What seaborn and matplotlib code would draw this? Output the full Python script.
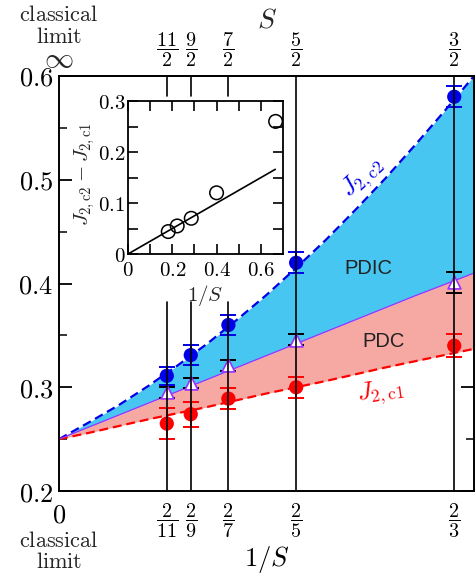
import matplotlib
matplotlib.use('Agg')
import matplotlib.pyplot as plt
import seaborn as sns
import numpy as np
import pandas as pd

# ---------------- data ----------------
inv_S = [2/11, 2/9, 2/7, 2/5, 2/3]
bottom_labels = [r'$0$', r'$\dfrac{2}{11}$', r'$\dfrac{2}{9}$', r'$\dfrac{2}{7}$', r'$\dfrac{2}{5}$', r'$\dfrac{2}{3}$']
top_labels = [r'$\dfrac{11}{2}$', r'$\dfrac{9}{2}$', r'$\dfrac{7}{2}$', r'$\dfrac{5}{2}$', r'$\dfrac{3}{2}$']

Jc2 = [0.311, 0.331, 0.360, 0.420, 0.580]
Jc2_err = [0.009, 0.010, 0.010, 0.010, 0.010]
Jc1 = [0.265, 0.274, 0.289, 0.300, 0.340]
Jc1_err = [0.015, 0.012, 0.010, 0.010, 0.011]
Jmid = [0.295, 0.304, 0.321, 0.346, 0.401]
Jmid_err = [0.005, 0.005, 0.005, 0.005, 0.010]

curve_x = [0.0, 0.05, 0.1, 0.15, 0.2, 0.25, 0.3, 0.35, 0.4, 0.45, 0.5, 0.55, 0.6, 0.65, 0.7]
curve_c2 = [0.25, 0.266, 0.2825, 0.301, 0.321, 0.342, 0.365, 0.389, 0.415, 0.442, 0.471, 0.501, 0.533, 0.566, 0.600]
curve_mid = [0.25, 0.2615, 0.273, 0.2845, 0.296, 0.3075, 0.319, 0.3305, 0.342, 0.3535, 0.365, 0.3765, 0.388, 0.399, 0.410]
curve_c1 = [0.25, 0.256, 0.2625, 0.269, 0.275, 0.281, 0.2875, 0.294, 0.300, 0.306, 0.3125, 0.319, 0.325, 0.331, 0.337]

inset_diff = [0.044, 0.055, 0.070, 0.120, 0.260]
inset_fit_x = [0.0, 0.665]
inset_fit_y = [0.0, 0.166]

# ---------------- style ----------------
sns.set_theme(style='ticks')
plt.rcParams['mathtext.fontset'] = 'cm'
plt.rcParams['font.family'] = ['DejaVu Sans']

C_BLUE = '#0000E8'
C_RED = '#FF0000'
C_PURPLE = '#9B30FF'
C_FILL_B = '#47C6F2'
C_FILL_R = '#F6A8A2'

fig = plt.figure(figsize=(4.77, 5.76), dpi=100)
ax = fig.add_axes([59/477, 1-491/576, 415/477, 415/576])
ax.set_xlim(0, 0.7)
ax.set_ylim(0.2, 0.6)

# fills
ax.fill_between(curve_x, curve_mid, curve_c2, color=C_FILL_B, lw=0, zorder=1)
ax.fill_between(curve_x, curve_c1, curve_mid, color=C_FILL_R, lw=0, zorder=1)

# curves
sns.lineplot(x=curve_x, y=curve_c2, ax=ax, color=C_BLUE, lw=1.6, linestyle=(0, (4, 2.2)), zorder=2)
sns.lineplot(x=curve_x, y=curve_c1, ax=ax, color=C_RED, lw=1.6, linestyle=(0, (4, 2.2)), zorder=2)
sns.lineplot(x=curve_x, y=curve_mid, ax=ax, color=C_PURPLE, lw=0.9, zorder=2)

# error bars
ax.errorbar(inv_S, Jc2, yerr=Jc2_err, fmt='none', ecolor=C_BLUE, capsize=6, elinewidth=1.1, capthick=1.4, zorder=3)
ax.errorbar(inv_S, Jc1, yerr=Jc1_err, fmt='none', ecolor=C_RED, capsize=6, elinewidth=1.1, capthick=1.4, zorder=3)
ax.errorbar(inv_S, Jmid, yerr=Jmid_err, fmt='none', ecolor='black', capsize=6, elinewidth=1.1, capthick=1.4, zorder=3)

# markers
sns.scatterplot(x=inv_S, y=Jc2, ax=ax, color=C_BLUE, s=105, edgecolor='none', zorder=4)
sns.scatterplot(x=inv_S, y=Jc1, ax=ax, color=C_RED, s=105, edgecolor='none', zorder=4)
sns.scatterplot(x=inv_S, y=Jmid, ax=ax, marker='^', color='white', s=85, edgecolor=C_PURPLE, linewidth=1.2, zorder=4)

# vertical guide lines (interrupted behind the inset for the small 1/S values)
for xv in inv_S:
    if xv < 0.3:
        ax.axvline(xv, ymin=0, ymax=(491-302)/415, color='black', lw=1.2, zorder=6)
        ax.axvline(xv, ymin=1-20/415, ymax=1, color='black', lw=1.2, zorder=6)
    else:
        ax.axvline(xv, color='black', lw=1.2, zorder=6)

# texts
ax.text(0.522, 0.414, 'PDIC', ha='center', va='center', fontsize=14.5, family='Liberation Sans', color='#222222', zorder=5)
ax.text(0.547, 0.344, 'PDC', ha='center', va='center', fontsize=14.5, family='Liberation Sans', color='#222222', zorder=5)
ax.text(0.512, 0.502, r'$J_{2,\mathrm{c2}}$', rotation=43, color=C_BLUE, fontsize=18, ha='center', va='center', zorder=5)
ax.text(0.542, 0.295, r'$J_{2,\mathrm{c1}}$', rotation=8, color=C_RED, fontsize=18, ha='center', va='center', zorder=5)

# axes styling
for sp in ax.spines.values():
    sp.set_linewidth(1.4)
    sp.set_color('black')
ax.set_yticks([0.2, 0.3, 0.4, 0.5, 0.6])
ax.set_yticklabels([r'$0.2$', r'$0.3$', r'$0.4$', r'$0.5$', r'$0.6$'], fontsize=19)
ax.set_yticks(np.arange(0.25, 0.6, 0.1), minor=True)
ax.tick_params(axis='y', which='major', direction='in', length=9.5, width=1.3, left=True, right=True, pad=4, colors='black')
ax.tick_params(axis='y', which='minor', direction='in', length=6, width=1.3, left=True, right=True)
ax.set_xticks([0] + inv_S)
ax.set_xticklabels(bottom_labels, fontsize=14.5)
ax.get_xticklabels()[0].set_fontsize(19)
ax.tick_params(axis='x', which='major', length=0, pad=8, colors='black')
ax.set_xlabel(r'$1/S$', fontsize=19, color='black')
ax.xaxis.set_label_coords(0.5, -0.128)
ax.set_ylabel('')

sec = ax.secondary_xaxis('top')
sec.set_xticks(inv_S)
sec.set_xticklabels(top_labels, fontsize=14.5)
sec.tick_params(length=0, pad=5, colors='black')
sec.spines['top'].set_linewidth(1.4)

ax.text(0.0, (491-59)/415, r'$\infty$', transform=ax.transAxes, ha='center', va='center', fontsize=21)
ax.text(0.5, (491-33)/415, r'$S$', transform=ax.transAxes, ha='center', va='bottom', fontsize=20)
ax.text(0.0, (491-21)/415, r'$\mathrm{classical}$', transform=ax.transAxes, ha='center', va='baseline', fontsize=16)
ax.text(0.0, (491-43)/415, r'$\mathrm{limit}$', transform=ax.transAxes, ha='center', va='baseline', fontsize=16)
ax.text(0.0, -(547-491)/415, r'$\mathrm{classical}$', transform=ax.transAxes, ha='center', va='baseline', fontsize=16)
ax.text(0.0, -(568-491)/415, r'$\mathrm{limit}$', transform=ax.transAxes, ha='center', va='baseline', fontsize=16)

# ---------------- inset ----------------
ins = fig.add_axes([128/477, 1-254/576, 155/477, 153/576])
ins.set_facecolor('white')
ins.set_xlim(0, 0.7)
ins.set_ylim(0, 0.3)
sns.lineplot(x=inset_fit_x, y=inset_fit_y, ax=ins, color='black', lw=1.2)
sns.scatterplot(x=inv_S, y=inset_diff, ax=ins, s=95, facecolor='none', edgecolor='black', linewidth=1.1, zorder=3)
for sp in ins.spines.values():
    sp.set_linewidth(1.3)
    sp.set_color('black')
ins.set_xticks([0, 0.2, 0.4, 0.6])
ins.set_xticklabels([r'$0$', r'$0.2$', r'$0.4$', r'$0.6$'], fontsize=15)
ins.set_xticks([0.1, 0.3, 0.5], minor=True)
ins.set_yticks([0, 0.1, 0.2, 0.3])
ins.set_yticklabels([r'$0$', r'$0.1$', r'$0.2$', r'$0.3$'], fontsize=15)
ins.set_yticks([0.05, 0.15, 0.25], minor=True)
ins.tick_params(which='both', direction='in', length=7, width=1.2, top=True, right=True, bottom=True, left=True, colors='black')
ins.tick_params(axis='x', which='both', pad=4)
ins.tick_params(axis='y', which='both', pad=2)
ins.set_xlabel(r'$1/S$', fontsize=15)
ins.xaxis.set_label_coords(0.5, -0.19)
ins.set_ylabel(r'$J_{2,\mathrm{c2}}-J_{2,\mathrm{c1}}$', fontsize=15)
ins.yaxis.set_label_coords(-0.2, 0.52)

fig.savefig('out.png', dpi=100)
